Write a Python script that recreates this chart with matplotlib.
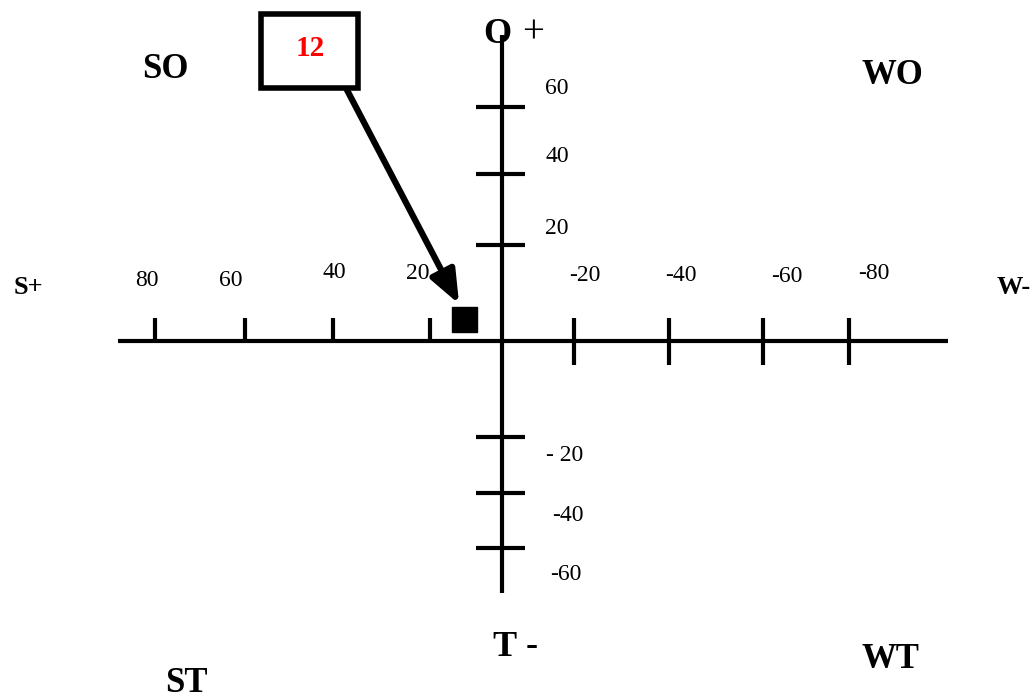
import matplotlib
matplotlib.use("Agg")
import matplotlib.pyplot as plt
from matplotlib.patches import Rectangle

# ---- data ----
x_tick_labels = ['80', '60', '40', '20', '-20', '-40', '-60', '-80']
x_tick_pos = [78.9, 58.4, 38.4, 16.4, -16.4, -38.0, -59.3, -78.9]
y_tick_labels = ['20', '40', '60', '- 20', '-40', '-60']
y_tick_pos = [21.8, 38.0, 53.2, -21.8, -34.5, -47.0]
point_x = [8.75]
point_y = [5.1]
point_labels = ['12']
quadrant_labels = ['SO', 'WO', 'ST', 'WT']

plt.rcParams['font.family'] = ['Liberation Serif', 'DejaVu Serif']

W, H, DPI = 1035, 700, 100
fig = plt.figure(figsize=(W / DPI, H / DPI), dpi=DPI)
ax = fig.add_axes([0, 0, 1, 1])
ax.set_axis_off()

S = 4.4  # pixels per unit
OX, OY = 502, 341


def X(px):
    return (OX - px) / S


def Y(py):
    return (OY - py) / S


ax.set_xlim(X(0), X(W))
ax.set_ylim(Y(H), Y(0))

LW = 3.0
# axes lines
ax.plot([X(118), X(948)], [0, 0], color='black', lw=LW, solid_capstyle='butt')
ax.plot([0, 0], [Y(35), Y(593)], color='black', lw=LW, solid_capstyle='butt')

# x ticks
for p in x_tick_pos:
    low = 0 if p > 0 else Y(365)
    ax.plot([p, p], [low, Y(318)], color='black', lw=LW, solid_capstyle='butt')
# y ticks
for p in y_tick_pos:
    ax.plot([X(476), X(525)], [p, p], color='black', lw=LW, solid_capstyle='butt')

# tick labels (positions in pixels as drawn in the reference)
x_lab_px = [(147, 281), (231, 281), (334, 273), (418, 274),
            (585, 276), (681, 276), (787, 277), (874, 274)]
for lab, (px, py) in zip(x_tick_labels, x_lab_px):
    ax.text(X(px), Y(py), lab, ha='center', va='center', fontsize=17)
y_lab_px = [(557, 229), (557, 157), (557, 89), (565, 456), (568, 516), (566, 574)]
for lab, (px, py) in zip(y_tick_labels, y_lab_px):
    ax.text(X(px), Y(py), lab, ha='center', va='center', fontsize=17)

# axis end labels
ax.text(X(28), Y(288), 'S+', ha='center', va='center', fontsize=19, fontweight='bold')
ax.text(X(997), Y(288), 'W-', ha='left', va='center', fontsize=19, fontweight='bold')
ax.text(X(497), Y(35), 'O', ha='center', va='center', fontsize=26, fontweight='bold')
ax.text(X(533), Y(33), '+', ha='center', va='center', fontsize=28)
ax.text(X(504), Y(648), 'T', ha='center', va='center', fontsize=26, fontweight='bold')
ax.text(X(532), Y(646), '-', ha='center', va='center', fontsize=26, fontweight='bold')

# quadrant labels
q_px = [(165, 70), (892, 76), (186, 683), (890, 660)]
for lab, (px, py) in zip(quadrant_labels, q_px):
    ax.text(X(px), Y(py), lab, ha='center', va='center', fontsize=25, fontweight='bold')

# data point
ax.scatter(point_x, point_y, marker='s', s=18 ** 2, color='black', zorder=5)

# label box + arrow
rect = Rectangle((X(358), Y(88)), X(261) - X(358), Y(14) - Y(88),
                 fill=False, edgecolor='black', lw=4.0, zorder=4)
ax.add_patch(rect)
ax.text(X(310), Y(48), point_labels[0], ha='center', va='center', fontsize=21,
        fontweight='bold', color='red')
ax.annotate('', xy=(point_x[0] + 1.0, point_y[0] + 3.3), xytext=(X(347), Y(90)),
            arrowprops=dict(arrowstyle='-|>,head_length=1.0,head_width=0.4',
                            lw=4.5, color='black', shrinkA=0, shrinkB=0,
                            mutation_scale=20))

fig.savefig('out.png', dpi=DPI)
